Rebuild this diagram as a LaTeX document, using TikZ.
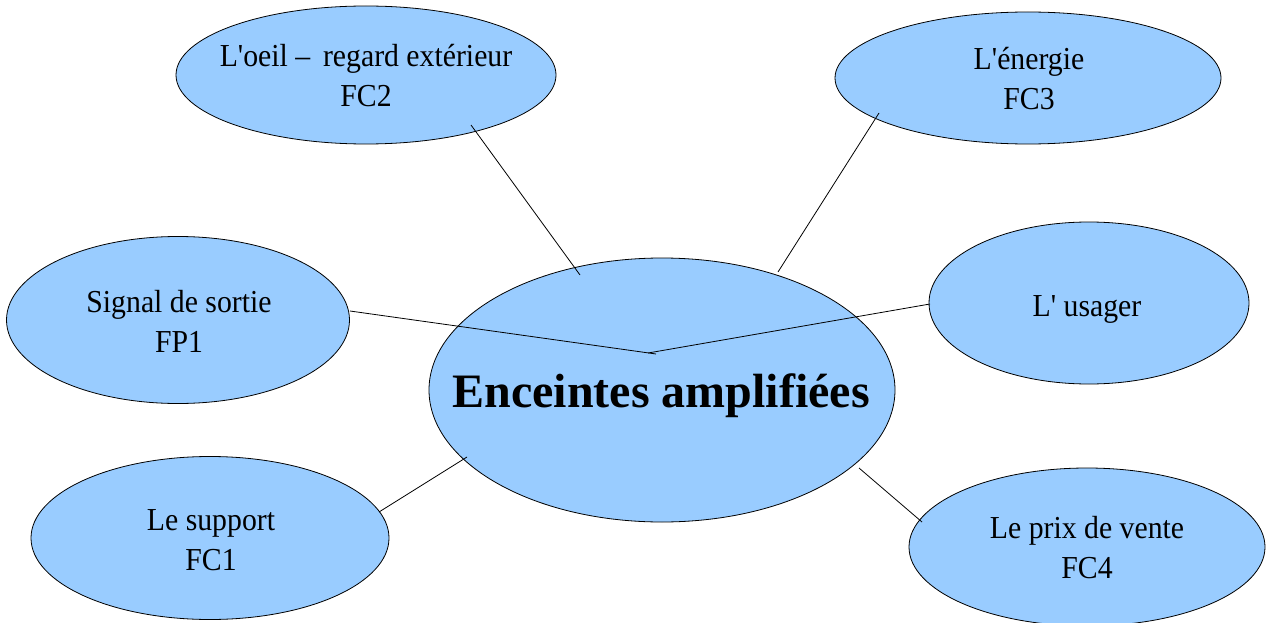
\documentclass[tikz,border=0pt]{standalone}
\usepackage{fontspec}
\setmainfont{Liberation Serif}
\newfontfamily\rfont{Liberation Serif}[FakeStretch=0.93]
\usetikzlibrary{shapes.geometric}
\definecolor{blobfill}{RGB}{153,204,255}
\tikzset{
  blob/.style={ellipse, draw=black, line width=0.8pt, fill=blobfill, inner sep=0pt, outer sep=0pt},
  lbl/.style={align=center, inner sep=0pt, font=\rfont\fontsize{32}{40}\selectfont},
  title/.style={inner sep=0pt, font=\bfseries\fontsize{48}{56}\selectfont},
  link/.style={draw=black, line width=0.8pt}
}
\begin{document}
\begin{tikzpicture}[x=1pt,y=-1pt]
\useasboundingbox (0,0) rectangle (1266,623);
% ellipses
\node[blob, minimum width=380pt, minimum height=138pt] (fc2) at (366,75) {};
\node[blob, minimum width=386pt, minimum height=132pt] (fc3) at (1028,78) {};
\node[blob, minimum width=343pt, minimum height=167pt] (fp1) at (178,320) {};
\node[blob, minimum width=320pt, minimum height=162pt] (us) at (1089,303) {};
\node[blob, minimum width=358pt, minimum height=163pt] (fc1) at (210,538) {};
\node[blob, minimum width=466pt, minimum height=264pt] (main) at (662,390) {};
\node[blob, minimum width=356pt, minimum height=158pt] (fc4) at (1087,547) {};
% texts
\node[lbl] (fc2t) at (366,76) {L'oeil –\, regard extérieur\\FC2};
\node[lbl] (fc3t) at (1029,79) {L'énergie\\FC3};
\node[lbl] (fp1t) at (179,321) {Signal de sortie\\FP1};
\node[lbl, anchor=base] (ust) at (1087,316) {L' usager};
\node[lbl] (fc1t) at (211,540) {Le support\\FC1};
\node[lbl] (fc4t) at (1087,548) {Le prix de vente\\FC4};
\node[title, anchor=base] (maint) at (661,407) {Enceintes amplifiées};
% connectors
\draw[link] ([shift={(105,50)}]fc2.center) -- ([shift={(-82,-115)}]main.center);
\draw[link] ([shift={(-149,35)}]fc3.center) -- ([shift={(116,-118)}]main.center);
\draw[link] ([shift={(172,-9)}]fp1.center) -- ([shift={(-6,-36)}]main.center);
\draw[link] ([shift={(-14,-37)}]main.center) -- ([shift={(-159,1)}]us.center);
\draw[link] ([shift={(169,-26)}]fc1.center) -- ([shift={(-195,67)}]main.center);
\draw[link] ([shift={(-165,-25)}]fc4.center) -- ([shift={(197,78)}]main.center);
\end{tikzpicture}
\end{document}
